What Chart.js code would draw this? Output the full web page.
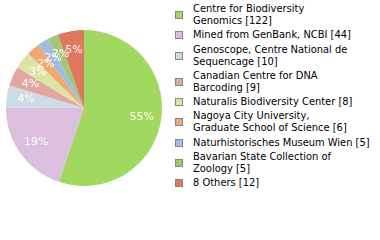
<!DOCTYPE html>
<html>
<head>
<meta charset="utf-8">
<script src="https://cdn.jsdelivr.net/npm/chart.js@4"></script>
<style>
    body { margin: 0; background: #fff; width: 380px; height: 240px; overflow: hidden; position: relative; }
    #pieBox { position: absolute; left: 0; top: 0; width: 168px; height: 216px; }
    #legend { position: absolute; left: 175px; top: 3px; font-family: "DejaVu Sans Condensed", "DejaVu Sans", sans-serif; font-size: 11px; color: #000; }
    .legend-item { display: flex; align-items: center; margin-bottom: 2.3px; }
    .legend-box { width: 6px; height: 6px; border: 1px solid #888; margin-right: 10px; flex: none; }
    .legend-text { line-height: 12px; }
</style>
</head>
<body>
<div id="pieBox"><canvas id="pieChart"></canvas></div>
<div id="legend"></div>
<script>
// Data
const categories = [
    ["Centre for Biodiversity", "Genomics"],
    ["Mined from GenBank, NCBI"],
    ["Genoscope, Centre National de", "Sequencage"],
    ["Canadian Centre for DNA", "Barcoding"],
    ["Naturalis Biodiversity Center"],
    ["Nagoya City University,", "Graduate School of Science"],
    ["Naturhistorisches Museum Wien"],
    ["Bavarian State Collection of", "Zoology"],
    ["8 Others"]
];
const counts = [122, 44, 10, 9, 8, 6, 5, 5, 12];
const sliceColors = ['#a0d860', '#dcbede', '#ccdce6', '#e0a8a0', '#dce4a4', '#f0a870', '#a0bce0', '#a0c878', '#e07860'];

const total = counts.reduce((a, b) => a + b, 0);

// Percent labels on the slices
const percentLabels = {
    id: 'percentLabels',
    afterDatasetsDraw(chart) {
        const ctx = chart.ctx;
        const meta = chart.getDatasetMeta(0);
        ctx.save();
        ctx.font = '11px "DejaVu Sans", sans-serif';
        ctx.fillStyle = '#fff';
        ctx.textAlign = 'center';
        ctx.textBaseline = 'middle';
        meta.data.forEach((arc, i) => {
            const mid = (arc.startAngle + arc.endAngle) / 2;
            const r = arc.outerRadius * 0.75;
            const pct = Math.floor(counts[i] / total * 100);
            ctx.fillText(pct + '%', arc.x + Math.cos(mid) * r, arc.y + Math.sin(mid) * r);
        });
        ctx.restore();
    }
};

new Chart(document.getElementById('pieChart').getContext('2d'), {
    type: 'pie',
    data: {
        labels: categories.map(c => c.join(' ')),
        datasets: [{
            data: counts,
            backgroundColor: sliceColors,
            borderWidth: 0
        }]
    },
    options: {
        responsive: true,
        maintainAspectRatio: false,
        animation: false,
        layout: { padding: { left: 6, right: 6, top: 30, bottom: 30 } },
        plugins: {
            legend: { display: false },
            tooltip: { enabled: false }
        }
    },
    plugins: [percentLabels]
});

// Legend
const legend = document.getElementById('legend');
categories.forEach((lines, i) => {
    const item = document.createElement('div');
    item.className = 'legend-item';
    const box = document.createElement('div');
    box.className = 'legend-box';
    box.style.background = sliceColors[i];
    const text = document.createElement('div');
    text.className = 'legend-text';
    const withCount = lines.slice();
    withCount[withCount.length - 1] += ' [' + counts[i] + ']';
    text.innerHTML = withCount.join('<br>');
    item.appendChild(box);
    item.appendChild(text);
    legend.appendChild(item);
});
</script>
</body>
</html>
